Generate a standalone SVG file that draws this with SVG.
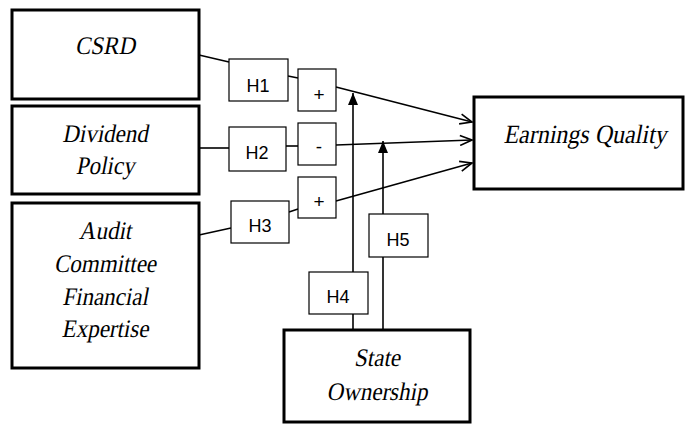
<svg xmlns="http://www.w3.org/2000/svg" width="690" height="426" viewBox="0 0 690 426">
<style>
.big{fill:#fff;stroke:#000;stroke-width:3}
.sm{fill:#fff;stroke:#000;stroke-width:1.2}
.ti{font-family:'Liberation Serif','Times New Roman',serif;font-style:normal;font-size:23px;text-anchor:middle;fill:#000}
.hl{font-family:'Liberation Sans',Arial,sans-serif;font-size:18px;text-anchor:middle;fill:#000}
.pm{font-family:'Liberation Sans',Arial,sans-serif;font-size:19px;text-anchor:middle;fill:#000}
.ln{stroke:#000;stroke-width:1.6;fill:none}
</style>
<defs>
<marker id="open" viewBox="0 0 14 12" refX="13" refY="6" markerWidth="14" markerHeight="12" markerUnits="userSpaceOnUse" orient="auto">
<path d="M1,1 L13,6 L1,11" fill="none" stroke="#000" stroke-width="1.6"/>
</marker>
<marker id="fill" viewBox="0 0 12 10" refX="12" refY="5" markerWidth="12" markerHeight="10" markerUnits="userSpaceOnUse" orient="auto">
<path d="M0,0 L12,5 L0,10 Z" fill="#000"/>
</marker>
</defs>
<g id="connectors">
<line class="ln" x1="199" y1="55" x2="229" y2="62"/>
<line class="ln" x1="288" y1="76" x2="298" y2="78"/>
<line class="ln" x1="336" y1="87" x2="472" y2="122" marker-end="url(#open)"/>
<line class="ln" x1="199" y1="148" x2="229" y2="148"/>
<line class="ln" x1="286" y1="146" x2="298" y2="146"/>
<line class="ln" x1="336" y1="145" x2="472" y2="140" marker-end="url(#open)"/>
<line class="ln" x1="199" y1="235" x2="231" y2="228"/>
<line class="ln" x1="289" y1="212" x2="298" y2="209"/>
<line class="ln" x1="336" y1="201" x2="472" y2="163" marker-end="url(#open)"/>
<line class="ln" x1="353" y1="330" x2="353" y2="314"/>
<line class="ln" x1="353" y1="272" x2="353" y2="93" marker-end="url(#fill)"/>
<line class="ln" x1="383" y1="330" x2="383" y2="257"/>
<line class="ln" x1="383" y1="214" x2="383" y2="141" marker-end="url(#fill)"/>
</g>
<g id="csrd"><rect class="big" x="12" y="10" width="187" height="89"/><text class="ti" transform="translate(105,54) scale(1,1.1) skewX(-12)">CSRD</text></g>
<g id="dividend"><rect class="big" x="12" y="106" width="187" height="88"/><text class="ti" transform="translate(105,142) scale(1,1.1) skewX(-12)">Dividend</text><text class="ti" transform="translate(105,174) scale(1,1.1) skewX(-12)">Policy</text></g>
<g id="audit"><rect class="big" x="12" y="203" width="187" height="165"/><text class="ti" transform="translate(105,239) scale(1,1.1) skewX(-12)">Audit</text><text class="ti" transform="translate(105,272) scale(1,1.1) skewX(-12)">Committee</text><text class="ti" transform="translate(105,305) scale(1,1.1) skewX(-12)">Financial</text><text class="ti" transform="translate(105,337) scale(1,1.1) skewX(-12)">Expertise</text></g>
<g id="state"><rect class="big" x="284" y="330" width="186" height="92"/><text class="ti" transform="translate(377,366) scale(1,1.1) skewX(-12)">State</text><text class="ti" transform="translate(377,400) scale(1,1.1) skewX(-12)">Ownership</text></g>
<g id="eq"><rect class="big" x="474" y="97" width="209" height="92"/><text class="ti" style="font-size:24px" transform="translate(585,143) scale(1,1.1) skewX(-12)">Earnings Quality</text></g>
<g id="h1"><rect class="sm" x="229" y="59" width="59" height="42"/><text class="hl" x="258" y="92">H1</text></g>
<g id="p1"><rect class="sm" x="298" y="69" width="38" height="42"/><text class="pm" x="319" y="101">+</text></g>
<g id="h2"><rect class="sm" x="229" y="127" width="57" height="44"/><text class="hl" x="257" y="159">H2</text></g>
<g id="m2"><rect class="sm" x="298" y="123" width="38" height="42"/><text class="pm" x="319" y="153">-</text></g>
<g id="h3"><rect class="sm" x="231" y="201" width="58" height="42"/><text class="hl" x="260" y="232">H3</text></g>
<g id="p3"><rect class="sm" x="298" y="177" width="38" height="41"/><text class="pm" x="319" y="208">+</text></g>
<g id="h4"><rect class="sm" x="309" y="272" width="59" height="42"/><text class="hl" x="338" y="303">H4</text></g>
<g id="h5"><rect class="sm" x="369" y="214" width="59" height="43"/><text class="hl" x="398" y="246">H5</text></g>
</svg>
